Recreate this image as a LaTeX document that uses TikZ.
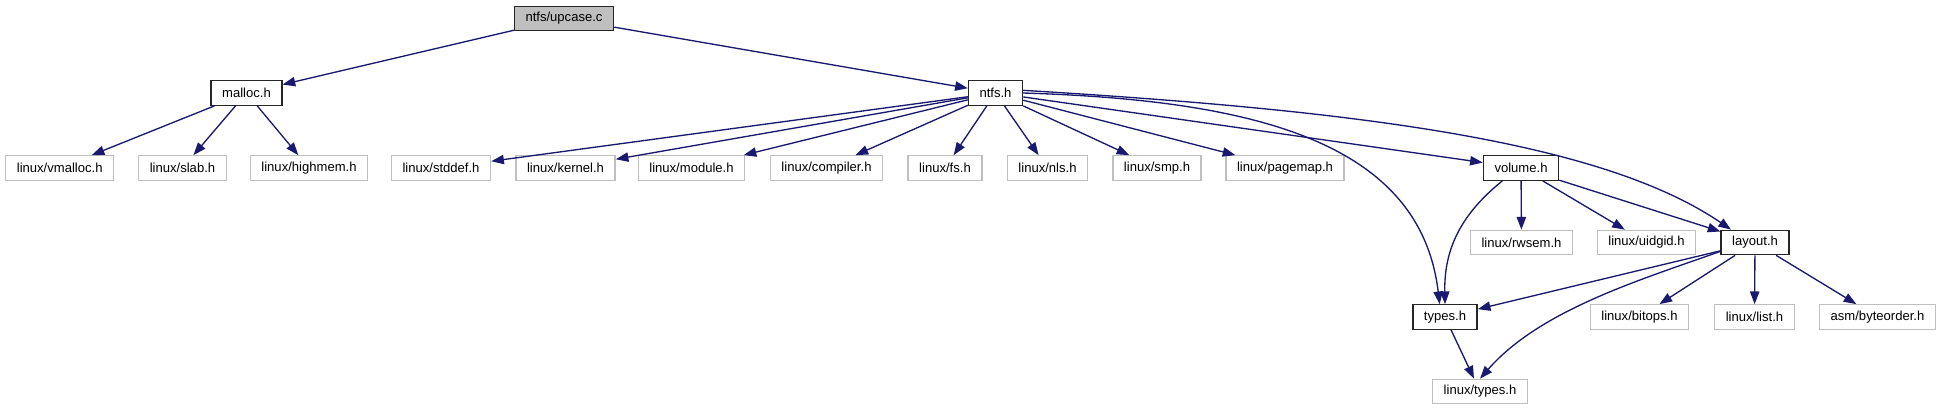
\documentclass[tikz,border=0pt]{standalone}
\usepackage{fontspec}
\setmainfont{Liberation Sans}
\usetikzlibrary{arrows.meta}
\definecolor{inkedge}{HTML}{191970}
\definecolor{inkgrey}{HTML}{BFBFBF}

\begin{document}
\begin{tikzpicture}[x=0.75pt, y=-0.75pt, font=\fontsize{9.8}{11}\selectfont,
  box/.style={draw, line width=1pt, inner xsep=8.3pt, inner ysep=0pt,
              minimum height=18.3pt},
  extbox/.style={box, draw=inkgrey},
  ownbox/.style={box, draw=black!85},
  rootbox/.style={ownbox, fill=inkgrey},
  edge/.style={draw=inkedge, line width=1pt,
               -{Triangle[length=9.5pt, width=7pt]}}]
  \useasboundingbox (0,0) rectangle (1941,411);
  % files of the tree
  \node[rootbox] (upcase) at (564,18.5) {ntfs/upcase.c};
  \node[ownbox] (malloc) at (246.5,93) {malloc.h};
  \node[ownbox] (ntfs) at (995.5,93) {ntfs.h};
  \node[ownbox] (volume) at (1521,168) {volume.h};
  \node[ownbox] (layout) at (1755,242.5) {layout.h};
  \node[ownbox] (types) at (1445,317) {types.h};
  % system headers
  \foreach \x/\nm in {59.7/vmalloc, 182.5/slab, 309/highmem, 441/stddef,
                      565.5/kernel, 691.5/module, 826.5/compiler, 945/fs,
                      1047.5/nls, 1157/smp, 1285/pagemap}{%
    \node[extbox] (\nm) at (\x,168) {linux/\nm.h};}
  \foreach \x/\nm in {1521.5/rwsem, 1646.5/uidgid}{%
    \node[extbox] (\nm) at (\x,242.5) {linux/\nm.h};}
  \foreach \x/\nm in {1639.5/bitops, 1754.5/list}{%
    \node[extbox] (\nm) at (\x,317) {linux/\nm.h};}
  \node[extbox] (byteorder) at (1877.5,317) {asm/byteorder.h};
  \node[extbox] (ltypes) at (1480,391.5) {linux/types.h};
  % includes
  \draw[edge] (upcase) -- (malloc);
  \draw[edge] (upcase) -- (ntfs);
  \foreach \t in {vmalloc,slab,highmem}{%
    \draw[edge] (malloc) -- (\t);}
  \foreach \t in {stddef,kernel,module,compiler,fs,nls,smp,pagemap,volume}{%
    \draw[edge] (ntfs) -- (\t);}
  \draw[edge] (ntfs.east) .. controls (1250,100) and (1420,140)
    .. ([xshift=-4pt]types.north);
  \draw[edge] ([yshift=2pt]ntfs.east) .. controls (1350,110) and (1600,140)
    .. ([xshift=-18pt]layout.north);
  \foreach \t in {rwsem,uidgid,layout}{%
    \draw[edge] (volume) -- (\t);}
  \draw[edge] ([xshift=-14pt]volume.south) .. controls (1460,215) and (1444,250)
    .. (types.north);
  \draw[edge] (layout) -- (types);
  \draw[edge] ([yshift=3pt]layout.south west) .. controls (1640,280) and (1540,310)
    .. (ltypes.north);
  \foreach \t in {bitops,list,byteorder}{%
    \draw[edge] (layout) -- (\t);}
  \draw[edge] (types) -- (ltypes);
\end{tikzpicture}
\end{document}
